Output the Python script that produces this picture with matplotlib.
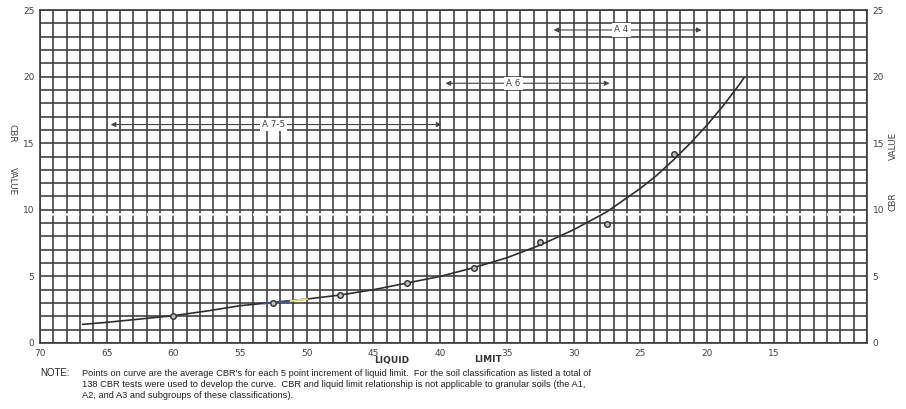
import matplotlib
matplotlib.use("Agg")
import matplotlib.pyplot as plt

# Liquid limit vs. CBR relationship
curve_ll = [66.8, 65, 62.5, 60, 57.5, 55, 52.5, 50, 47.5, 45, 42.5, 40,
            37.5, 35, 32.5, 30, 27.5, 25, 23.75, 22.5, 21.25, 20, 18.75,
            17.5, 17.2]
curve_cbr = [1.4, 1.55, 1.8, 2.05, 2.4, 2.8, 3.05, 3.3, 3.6, 4.0, 4.5, 5.0,
             5.65, 6.4, 7.35, 8.5, 9.85, 11.6, 12.6, 13.75, 15.0, 16.35,
             17.85, 19.5, 19.95]

# Average CBR for each 5 point increment of liquid limit
point_ll = [60, 52.5, 47.5, 42.5, 37.5, 32.5, 27.5, 22.5]
point_cbr = [2.0, 3.0, 3.6, 4.5, 5.6, 7.6, 8.9, 14.2]

x_ticks = [70, 65, 60, 55, 50, 45, 40, 35, 30, 25, 20, 15]
y_ticks = [0, 5, 10, 15, 20, 25]

# Soil group ranges: (label, high LL, low LL, CBR level)
groups = ["A 7-5", "A 6", "A 4"]
group_ll_high = [64.7, 39.6, 31.5]
group_ll_low = [39.9, 27.3, 20.4]
group_cbr = [16.4, 19.5, 23.5]
group_label_ll = [52.5, 34.5, 26.4]

ink = "#2e2e2e"

fig = plt.figure(figsize=(9.06, 4.09), dpi=100)
ax = fig.add_axes([40 / 906, 1 - 343 / 409, 827 / 906, 333 / 409])
ax.set_xlim(70, 8)
ax.set_ylim(0, 25)

# graph-paper grid, one line per unit
for v in range(8, 71):
    ax.axvline(v, color="#3a3a3a", lw=1.15, zorder=1)
for v in range(0, 26):
    ax.axhline(v, color="#3a3a3a", lw=1.15, zorder=1)
for s in ax.spines.values():
    s.set_color("#3a3a3a")
    s.set_linewidth(1.2)

# light streak across the sheet
ax.axhline(9.7, color="white", lw=1.8, ls=(0, (7, 1.5)), zorder=2)

ax.set_xticks(x_ticks)
ax.set_yticks(y_ticks)
ax.tick_params(length=0, labelsize=6.5, labelcolor="#444444", pad=4)
ax.tick_params(axis="y", labelright=True, labelleft=True)

ax.plot(curve_ll, curve_cbr, color=ink, lw=1.2, zorder=4)
ax.plot([53.2, 51.2], [2.97, 3.15], color="#3a4fa0", lw=1.4, zorder=5)
ax.plot([51.2, 50.0], [3.15, 3.3], color="#e8e070", lw=1.4, zorder=5)
ax.plot(point_ll, point_cbr, "o", ms=4, mfc="#bdbdbd", mec=ink, mew=1.0,
        zorder=6)

for name, hi, lo, yv, lx in zip(groups, group_ll_high, group_ll_low,
                                group_cbr, group_label_ll):
    ax.annotate("", xy=(lo, yv), xytext=(hi, yv),
                arrowprops=dict(arrowstyle="<|-|>", color="#444444", lw=0.8,
                                mutation_scale=7, shrinkA=0, shrinkB=0),
                zorder=7)
    ax.text(lx, yv, name, fontsize=6.3, color="#444444", ha="center",
            va="center", zorder=8,
            bbox=dict(facecolor="white", edgecolor="none", pad=1.5))

# axis titles
fig.text(12 / 906, 1 - 133 / 409, "CBR", rotation=270, fontsize=6.5,
         color="#444444", ha="center", va="center")
fig.text(12 / 906, 1 - 181 / 409, "VALUE", rotation=270, fontsize=6.5,
         color="#444444", ha="center", va="center")
fig.text(893 / 906, 1 - 146 / 409, "VALUE", rotation=90, fontsize=6.5,
         color="#444444", ha="center", va="center")
fig.text(893 / 906, 1 - 202 / 409, "CBR", rotation=90, fontsize=6.5,
         color="#444444", ha="center", va="center")
fig.text(392 / 906, 1 - 360 / 409, "LIQUID", fontsize=6.5, color="#333333",
         ha="center", va="center", weight="bold")
fig.text(488 / 906, 1 - 360 / 409, "LIMIT", fontsize=6.5, color="#333333",
         ha="center", va="center", weight="bold")

note_lines = [
    "Points on curve are the average CBR's for each 5 point increment of liquid limit.  "
    "For the soil classification as listed a total of",
    "138 CBR tests were used to develop the curve.  CBR and liquid limit relationship "
    "is not applicable to granular soils (the A1,",
    "A2, and A3 and subgroups of these classifications).",
]
fig.text(40 / 906, 1 - 373 / 409, "NOTE:", fontsize=7, color="#222222",
         ha="left", va="center", family="Liberation Sans")
for i, line in enumerate(note_lines):
    fig.text(82 / 906, 1 - (373 + 11.5 * i) / 409, line, fontsize=6.7,
             color="#222222", ha="left", va="center", family="Liberation Sans")

fig.savefig("out.png", dpi=100, facecolor="white")
